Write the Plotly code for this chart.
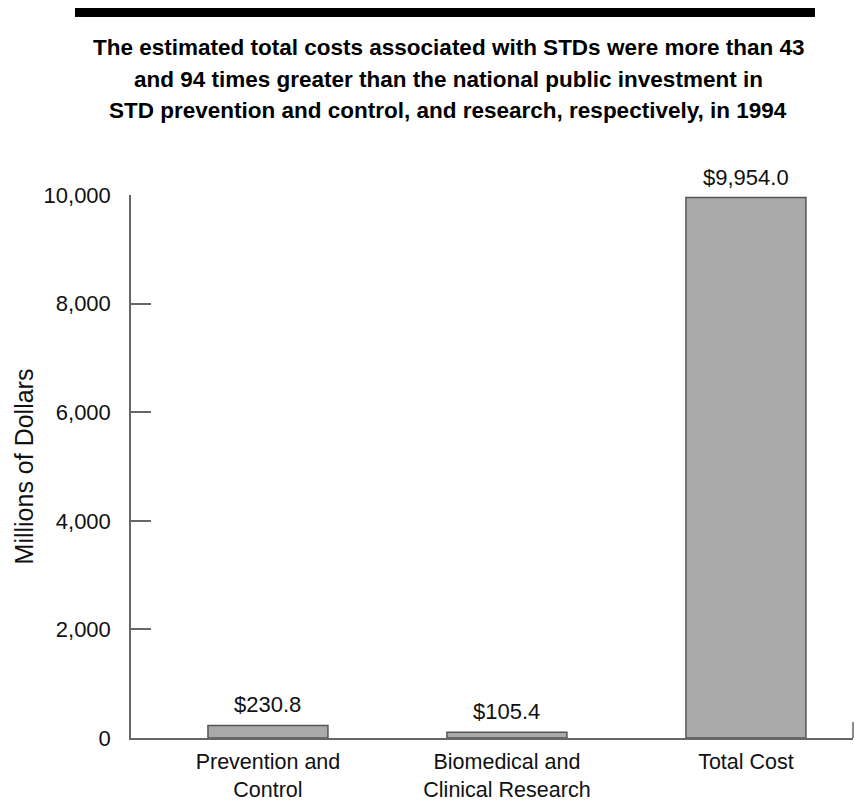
import plotly.graph_objects as go

# Public STD spending vs. estimated total cost, 1994 (millions of dollars)
categories = ["Prevention and<br>Control", "Biomedical and<br>Clinical Research", "Total Cost"]
values = [230.8, 105.4, 9954.0]
value_labels = ["$230.8", "$105.4", "$9,954.0"]
y_ticks = [0, 2000, 4000, 6000, 8000, 10000]

title_lines = [
    "The estimated total costs associated with STDs were more than 43",
    "and 94 times greater than the national public investment in",
    "STD prevention and control, and research, respectively, in 1994",
]

body_font = "Liberation Sans, Arial, Helvetica, sans-serif"
title_font = "Liberation Sans, Arial, Helvetica, sans-serif"

# plot area geometry in pixels (used to place the heading elements)
PLOT_LEFT, PLOT_W, PLOT_BOTTOM, PLOT_H = 131, 722, 738, 543


def px_to_paper_y(py):
    return (PLOT_BOTTOM - py) / PLOT_H


fig = go.Figure()
fig.add_trace(go.Bar(
    x=categories,
    y=values,
    marker=dict(color="#aaaaaa", line=dict(color="#555555", width=1.5)),
    hoverinfo="skip",
))

# value labels above each bar
for cat, val, lab in zip(categories, values, value_labels):
    fig.add_annotation(x=cat, y=val, text=lab, showarrow=False,
                       yanchor="bottom", yshift=6,
                       font=dict(family=body_font, size=22, color="#111111"))

# three-line heading
for i, line in enumerate(title_lines):
    fig.add_annotation(xref="paper", yref="paper",
                       x=(448 - PLOT_LEFT) / PLOT_W, y=px_to_paper_y(48 + 31.5 * i),
                       xanchor="center", yanchor="middle", showarrow=False,
                       text="<b>" + line + "</b>",
                       font=dict(family=title_font, size=22.5, color="black"))

# heavy rule across the top
fig.add_shape(type="line", xref="paper", yref="paper",
              x0=(75 - PLOT_LEFT) / PLOT_W, x1=(815 - PLOT_LEFT) / PLOT_W,
              y0=px_to_paper_y(12.5), y1=px_to_paper_y(12.5),
              line=dict(color="black", width=9))
# small end tick at right of the category axis
fig.add_shape(type="line", xref="paper", yref="paper",
              x0=1, x1=1, y0=0, y1=16 / PLOT_H,
              line=dict(color="#666666", width=1.5))

fig.update_layout(
    width=855, height=800,
    paper_bgcolor="white", plot_bgcolor="white",
    margin=dict(l=131, r=2, t=195, b=62, autoexpand=False),
    bargap=0.498,
    showlegend=False,
    font=dict(family=body_font, size=22, color="#111111"),
    xaxis=dict(range=[-0.573, 2.448], showline=True, linecolor="#666666", linewidth=1.5,
               ticks="", showgrid=False, zeroline=False, ticklabelstandoff=3,
               automargin=False,
               tickfont=dict(family=body_font, size=21.5, color="#111111")),
    yaxis=dict(range=[0, 10000], tickvals=y_ticks, tickformat=",",
               showline=True, linecolor="#666666", linewidth=1.5,
               ticks="inside", ticklen=20, tickcolor="#666666", tickwidth=1.5,
               ticklabelstandoff=14, showgrid=False, zeroline=False,
               automargin=False,
               tickfont=dict(family=body_font, size=22, color="#111111"),
               title=dict(text="Millions of Dollars", standoff=3,
                          font=dict(family=body_font, size=25, color="#111111"))),
)

fig.write_html("out.html")
